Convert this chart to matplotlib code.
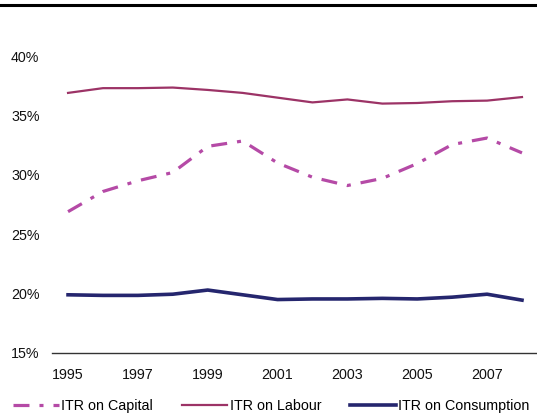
import numpy as np
import matplotlib.pyplot as plt
from matplotlib.lines import Line2D

plt.rcParams['font.family'] = ['Liberation Sans', 'DejaVu Sans']
plt.rcParams['lines.scale_dashes'] = False

years = list(range(1995, 2009))
capital = [26.9, 28.6, 29.5, 30.2, 32.4, 32.85, 31.0, 29.8, 29.1, 29.7, 30.95, 32.55, 33.1, 31.85]
labour = [36.9, 37.3, 37.3, 37.35, 37.15, 36.9, 36.5, 36.1, 36.35, 36.0, 36.05, 36.2, 36.25, 36.55]
consumption = [19.9, 19.85, 19.85, 19.95, 20.3, 19.9, 19.5, 19.55, 19.55, 19.6, 19.55, 19.7, 19.95, 19.45]
xticks = [1995, 1997, 1999, 2001, 2003, 2005, 2007]
yticks = [15, 20, 25, 30, 35, 40]

fig = plt.figure(figsize=(5.37, 4.17), dpi=100)
ax = fig.add_axes([0.0968, 0.1535, 0.9032, 0.712])

ax.plot(years, capital, color='#B54AA6', lw=2.3, dashes=(11.5, 7.2, 2.9, 7.2),
        solid_capstyle='butt', dash_capstyle='butt', label='ITR on Capital')
ax.plot(years, labour, color='#9C3366', lw=1.6, label='ITR on Labour')
ax.plot(years, consumption, color='#25266E', lw=2.6, label='ITR on Consumption')

ax.set_xlim(1994.54, 2008.43)
ax.set_ylim(15, 40)
ax.set_xticks(xticks)
ax.set_yticks(yticks)
ax.set_yticklabels([f'{v}%' for v in yticks])
ax.tick_params(length=0, labelsize=10.3, colors='#111111')
ax.tick_params(axis='x', pad=11)
ax.tick_params(axis='y', pad=9)
for s in ['top', 'right', 'left']:
    ax.spines[s].set_visible(False)
ax.spines['bottom'].set_color('#333333')
ax.spines['bottom'].set_linewidth(1.0)

fig.legend(loc='center', bbox_to_anchor=(0.505, 0.027), ncol=3, frameon=False,
           fontsize=10.3, handlelength=3.2, handletextpad=0.15, columnspacing=2.0)

fig.add_artist(Line2D([0, 1], [0.988, 0.988], color='black', lw=2.2))

fig.savefig('out.png', dpi=100)
